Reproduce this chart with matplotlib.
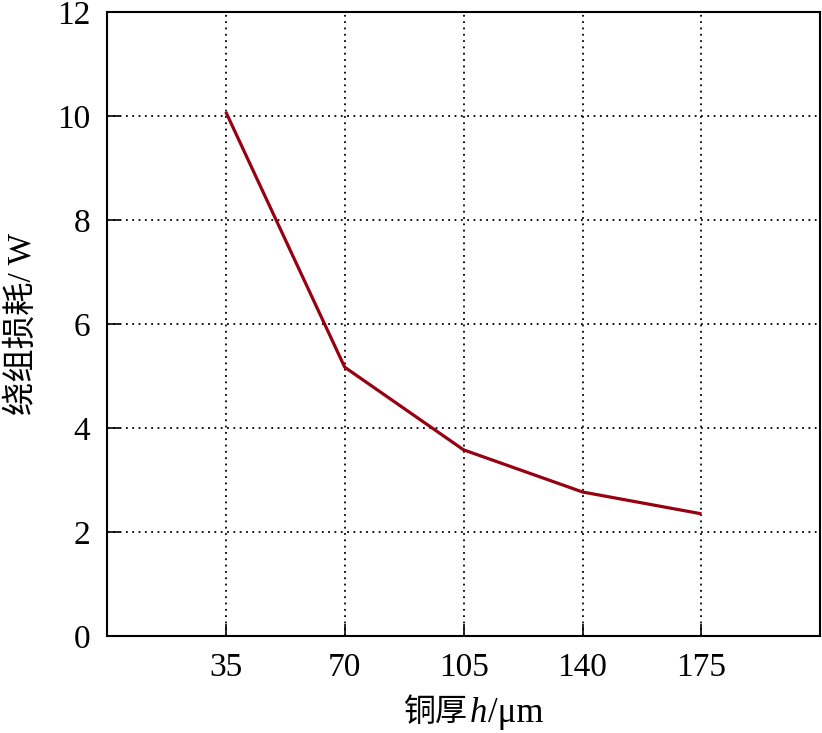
import matplotlib
matplotlib.use('Agg')
import matplotlib.pyplot as plt
from matplotlib.offsetbox import TextArea, HPacker, AnchoredOffsetbox

# 铜厚 (μm) 与 绕组损耗 (W)
thickness = [35, 70, 105, 140, 175]
loss = [10.08, 5.17, 3.58, 2.77, 2.35]
x_ticks = [35, 70, 105, 140, 175]
y_ticks = [0, 2, 4, 6, 8, 10, 12]

plt.rcParams['font.family'] = ['Liberation Serif', 'Noto Sans CJK SC']

fig = plt.figure(figsize=(8.22, 7.33), dpi=100)
ax = fig.add_axes([0.130, 0.1323, 0.868, 0.8513])

ax.plot(thickness, loss, color='#960010', lw=2.3, solid_capstyle='butt')

ax.set_xlim(0, 210)
ax.set_ylim(0, 12)
ax.set_xticks(x_ticks)
ax.set_yticks(y_ticks)
ax.grid(True, linestyle=(0, (1, 2.5)), color='black', lw=1.3)
ax.tick_params(direction='in', length=9, width=1.2, labelsize=24, pad=12,
               top=False, right=False)
for s in ax.spines.values():
    s.set_linewidth(1.5)

ax.set_ylabel('绕组损耗/ W', fontsize=24, labelpad=14)

# x 轴标签: 中文 + 斜体 h + /μm
parts = [
    TextArea('铜厚', textprops=dict(fontsize=23, family=['Noto Sans CJK SC'])),
    TextArea('h', textprops=dict(fontsize=25, style='italic', family=['Liberation Serif'])),
    TextArea('/μm', textprops=dict(fontsize=25, family=['Liberation Serif'])),
]
box = HPacker(children=parts, align='baseline', pad=0, sep=1)
anch = AnchoredOffsetbox(loc='center', child=box, frameon=False,
                         bbox_to_anchor=(474 / 822, 1 - 713 / 733),
                         bbox_transform=fig.transFigure, borderpad=0, pad=0)
fig.add_artist(anch)

fig.savefig('out.png', dpi=100)
